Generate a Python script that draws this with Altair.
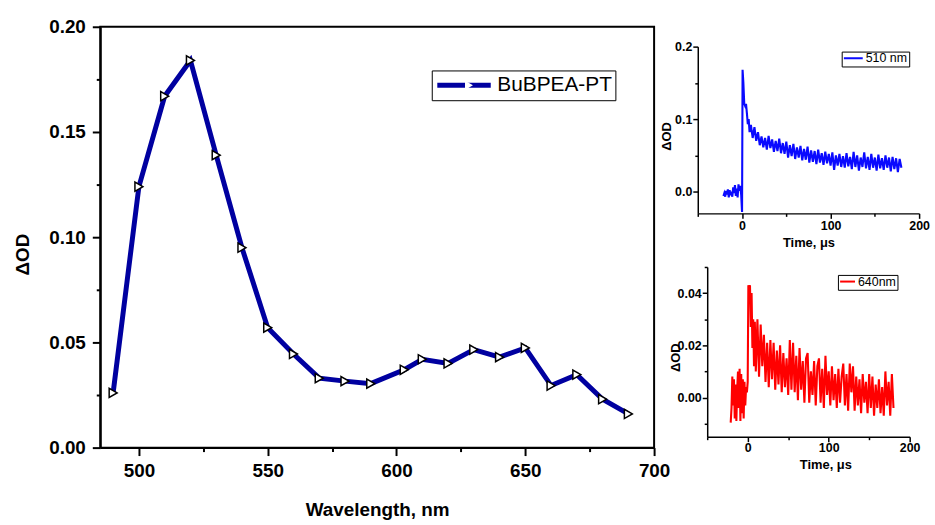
import altair as alt
import pandas as pd

FONT = "Liberation Sans"

# ---------------- transient absorption spectrum ----------------
wavelength = [490, 500, 510, 520, 530, 540, 550, 560, 570, 580, 590,
              603, 610, 620, 630, 640, 650, 660, 670, 680, 690]
delta_od = [0.026, 0.124, 0.167, 0.184, 0.139, 0.095, 0.057, 0.0445, 0.033,
            0.0316, 0.0304, 0.037, 0.042, 0.040, 0.0466, 0.043, 0.0474,
            0.0295, 0.0347, 0.023, 0.016]
spectrum_name = "BuBPEA-PT"

# ---------------- kinetic trace at 510 nm ----------------
blue_t_pre = [-21, -20, -19, -18, -17, -16, -15, -14, -13, -12, -11,
              -10, -9, -8, -7, -6, -5, -4, -3, -2, -1]
blue_v_pre = [-0.006, -0.002, -0.007, 0.001, -0.004, 0.003, -0.008, 0.002,
              -0.005, 0.000, -0.007, 0.006, -0.002, 0.009, -0.006, 0.004,
              -0.008, 0.010, 0.001, 0.008, -0.004]
blue_t_rise = [0, 0.6, 1.5, 2.5, 3.5, 4.5, 5.5, 6.5, 7.5, 8.5]
blue_v_rise = [-0.028, 0.168, 0.150, 0.121, 0.118, 0.121, 0.108, 0.093, 0.100, 0.082]
blue_t_tail = list(range(10, 181, 2))
blue_v_tail = [
    0.092, 0.074, 0.089, 0.070, 0.082, 0.064, 0.076, 0.061, 0.074, 0.058,
    0.077, 0.060, 0.072, 0.055, 0.070, 0.056, 0.073, 0.053, 0.067, 0.052,
    0.069, 0.047, 0.064, 0.049, 0.066, 0.045, 0.061, 0.047, 0.063, 0.043,
    0.059, 0.044, 0.062, 0.040, 0.057, 0.041, 0.056, 0.038, 0.058, 0.040,
    0.053, 0.037, 0.055, 0.039, 0.052, 0.036, 0.054, 0.030, 0.050, 0.036,
    0.052, 0.034, 0.049, 0.033, 0.053, 0.035, 0.048, 0.031, 0.055, 0.034,
    0.050, 0.029, 0.047, 0.034, 0.054, 0.032, 0.048, 0.030, 0.052, 0.033,
    0.047, 0.029, 0.051, 0.032, 0.046, 0.030, 0.050, 0.033, 0.047, 0.028,
    0.048, 0.031, 0.046, 0.027, 0.045, 0.033]
blue_name = "510 nm"

# ---------------- kinetic trace at 640 nm ----------------
red_t_pre = [-21, -20, -19, -18, -17, -16, -15, -14, -13, -12, -11,
             -10, -9, -8, -7, -6, -5, -4, -3, -2, -1]
red_v_pre = [-0.0096, -0.004, 0.008, -0.003, 0.007, -0.008, 0.005, -0.009,
             0.003, 0.010, -0.004, 0.011, -0.009, 0.009, -0.006, 0.007,
             -0.008, 0.006, -0.003, 0.004, 0.002]
red_t_rise = [0, 0.8, 1.8, 2.8, 3.8, 4.8, 5.8, 6.8, 7.8, 8.8]
red_v_rise = [0.006, 0.043, 0.042, 0.043, 0.027, 0.040, 0.019, 0.030, 0.012, 0.029]
red_t_tail = list(range(10, 181, 2))
red_v_tail = [
    0.010, 0.030, 0.008, 0.028, 0.012, 0.024, 0.006, 0.021, 0.004, 0.022,
    0.007, 0.021, 0.003, 0.018, 0.005, 0.020, 0.002, 0.017, 0.004, 0.015,
    0.001, 0.022, 0.003, 0.021, 0.002, 0.016, -0.001, 0.019, 0.003, 0.014,
    -0.002, 0.015, 0.017, -0.002, 0.010, 0.001, 0.014, -0.003, 0.012, 0.015,
    -0.002, 0.011, -0.004, 0.016, 0.001, 0.010, -0.003, 0.012, -0.001, 0.009,
    -0.004, 0.011, -0.002, 0.008, 0.013, -0.003, 0.009, -0.005, 0.013, 0.002,
    0.012, -0.005, 0.008, -0.003, 0.007, -0.006, 0.009, -0.002, 0.006, -0.006,
    0.009, -0.004, 0.008, -0.007, 0.005, -0.004, 0.007, -0.006, 0.004, -0.007,
    0.010, -0.003, 0.006, -0.007, 0.009, -0.004]
red_name = "640nm"

spec_df = pd.DataFrame({"wl": wavelength, "dod": delta_od,
                        "series": spectrum_name, "marker": spectrum_name})
blue_df = pd.DataFrame({"t": blue_t_pre + blue_t_rise + blue_t_tail,
                        "v": blue_v_pre + blue_v_rise + blue_v_tail})
blue_df["trace"] = blue_name
red_df = pd.DataFrame({"t": red_t_pre + red_t_rise + red_t_tail,
                       "v": red_v_pre + red_v_rise + red_v_tail})
red_df["trace"] = red_name


def minor_major(test, major, minor):
    return {"condition": {"test": test, "value": major}, "value": minor}


def axis_style(big):
    if big:
        return dict(labelFont=FONT, titleFont=FONT, labelFontSize=19, titleFontSize=19,
                    labelFontWeight="bold", titleFontWeight="bold", labelColor="black",
                    titleColor="black", domainColor="black", tickColor="black",
                    domainWidth=2, tickWidth=2, grid=False, labelFlush=False,
                    labelOverlap=False)
    return dict(labelFont=FONT, titleFont=FONT, labelFontSize=12.5, titleFontSize=13,
                labelFontWeight="bold", titleFontWeight="bold", labelColor="black",
                titleColor="black", domainColor="black", tickColor="black",
                domainWidth=1.5, tickWidth=1.5, grid=False, labelFlush=False,
                labelOverlap=False)


# ---------------- main spectrum panel ----------------
major_x = "datum.value % 50 === 0"
major_y = "abs(datum.value * 20 - round(datum.value * 20)) < 1e-6"
x_main = alt.X(
    "wl:Q", title="Wavelength, nm",
    scale=alt.Scale(domain=[485, 700], nice=False, zero=False),
    axis=alt.Axis(values=[500, 525, 550, 575, 600, 625, 650, 675, 700], format="d",
                  labelExpr=f"{major_x} ? datum.label : ''",
                  tickSize=minor_major(major_x, 8, 4), labelPadding=6,
                  titleBaseline="alphabetic", titleY=68, **axis_style(True)))
y_main = alt.Y(
    "dod:Q", title="ΔOD",
    scale=alt.Scale(domain=[0, 0.2], nice=False),
    axis=alt.Axis(values=[0, 0.025, 0.05, 0.075, 0.1, 0.125, 0.15, 0.175, 0.2],
                  format=".2f", labelExpr=f"{major_y} ? datum.label : ''",
                  tickSize=minor_major(major_y, 8, 4), labelPadding=7,
                  titleBaseline="alphabetic", titleX=-72, titleY=229,
                  **axis_style(True)))

spec_line = alt.Chart(spec_df).mark_line(strokeWidth=5).encode(
    x=x_main, y=y_main,
    color=alt.Color("series:N", scale=alt.Scale(range=["#0000a0"]),
                    legend=alt.Legend(orient="none", legendX=334, legendY=44, title=None,
                                      symbolType="stroke", symbolSize=2900,
                                      symbolStrokeWidth=5, clipHeight=24, padding=3,
                                      labelOffset=4, labelFont=FONT, labelFontSize=21,
                                      labelColor="black", labelLimit=0,
                                      strokeColor="black")))
spec_pts = alt.Chart(spec_df).mark_point(
    filled=True, fill="white", stroke="black", strokeWidth=1.5, size=85, opacity=1
).encode(
    x=x_main, y=y_main,
    shape=alt.Shape("marker:N", scale=alt.Scale(range=["triangle-right"]),
                    legend=alt.Legend(orient="none", legendX=363, legendY=44, title=None,
                                      symbolSize=85, symbolFillColor="white",
                                      symbolStrokeColor="black", symbolStrokeWidth=1.5,
                                      symbolOpacity=1, clipHeight=24, padding=3,
                                      labelExpr="''")))
main = alt.layer(spec_line, spec_pts).properties(
    width=558, height=424,
    view=alt.ViewBackground(stroke="black", strokeWidth=2))


# ---------------- kinetic insets ----------------
def kinetic(df, colour, y_domain, y_values, y_major, y_fmt, y_title_x, y_title_y,
            x_title_x, x_title_y, x_pad, lx, ly, sym, width, height):
    major_t = "datum.value % 100 === 0"
    xa = alt.X("t:Q", title="Time, μs",
               scale=alt.Scale(domain=[-50, 200], nice=False, zero=False),
               axis=alt.Axis(values=[-50, 0, 50, 100, 150, 200], format="d",
                             labelExpr=f"{major_t} ? datum.label : ''",
                             tickSize=minor_major(major_t, 5, 3), labelPadding=x_pad,
                             titleBaseline="alphabetic", titleY=x_title_y,
                             titleX=x_title_x, **axis_style(False)))
    ya = alt.Y("v:Q", title="ΔOD",
               scale=alt.Scale(domain=y_domain, nice=False, zero=False),
               axis=alt.Axis(values=y_values, format=y_fmt,
                             labelExpr=f"{y_major} ? datum.label : ''",
                             tickSize=minor_major(y_major, 5, 3), labelPadding=1,
                             titleBaseline="alphabetic", titleX=y_title_x,
                             titleY=y_title_y, **axis_style(False)))
    return alt.Chart(df).mark_line(strokeWidth=2.1, clip=True).encode(
        x=xa, y=ya,
        color=alt.Color("trace:N", scale=alt.Scale(range=[colour]),
                        legend=alt.Legend(orient="none", legendX=lx, legendY=ly, title=None,
                                          symbolType="stroke", symbolSize=sym * sym,
                                          symbolStrokeWidth=2, clipHeight=11, padding=1.2,
                                          labelOffset=2, labelFont=FONT, labelFontSize=12.5,
                                          labelColor="black", labelLimit=0,
                                          strokeColor="black"))
    ).properties(width=width, height=height)


inset_blue = kinetic(blue_df, "#0a0aff", [-0.03, 0.2], [0, 0.05, 0.1, 0.15, 0.2],
                     "abs(datum.value * 10 - round(datum.value * 10)) < 1e-6", ".1f",
                     -27, 90, 111.5, 33, 1, 145, 5, 19, 223, 168)
inset_red = kinetic(red_df, "#ff0000", [-0.015, 0.05],
                    [-0.01, 0, 0.01, 0.02, 0.03, 0.04, 0.05],
                    "abs(datum.value * 50 - round(datum.value * 50)) < 1e-6", ".2f",
                    -28, 91, 119, 32, 0, 131.7, 8, 15, 204, 171)

gap_df = pd.DataFrame({"v": [0]})


def gap(w, h):
    return alt.Chart(gap_df).mark_point(opacity=0, size=1).encode(
        x=alt.X("v:Q", axis=None), y=alt.Y("v:Q", axis=None)
    ).properties(width=w, height=h)


def indep(c):
    return c.resolve_scale(color="independent", shape="independent").resolve_legend(
        color="independent", shape="independent")


right_col = indep(alt.vconcat(gap(1, 1), inset_blue, gap(1, 16), inset_red,
                              spacing=19, bounds="flush", center=True))

chart = indep(alt.hconcat(main, right_col, spacing=44, bounds="flush")).properties(
    padding={"left": 13, "top": 15, "right": 5, "bottom": 5},
    background="white",
).configure_view(stroke=None).configure_legend(strokeWidth=1)

chart.save("out.html", embed_options={"renderer": "svg", "actions": False})
